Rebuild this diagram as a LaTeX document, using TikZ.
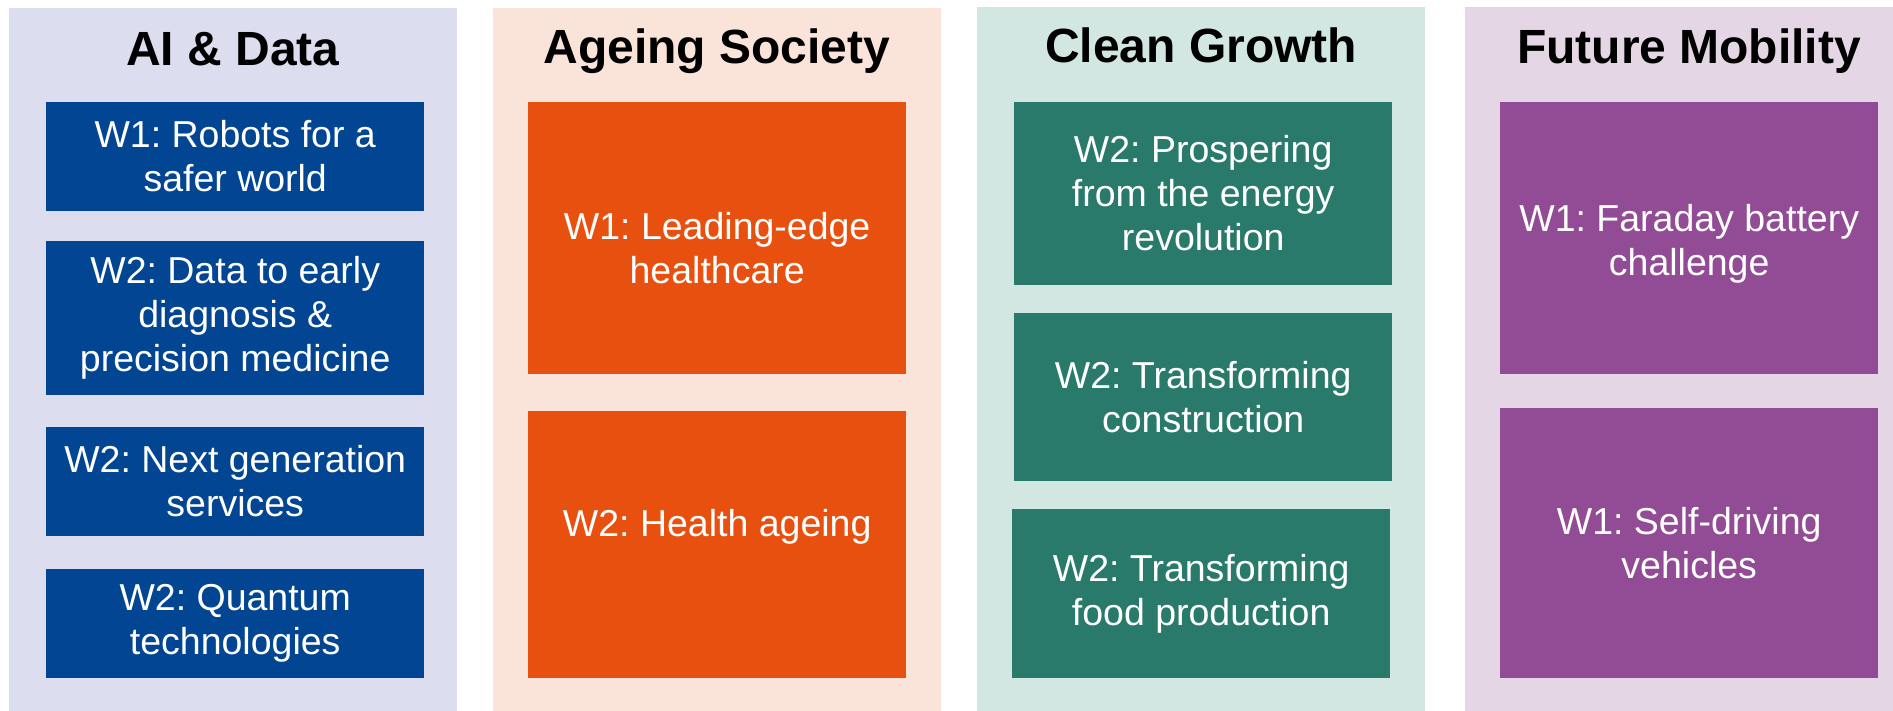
\documentclass[tikz,border=0pt]{standalone}
\usepackage{fontspec}
\setmainfont{Liberation Sans}
\frenchspacing
\definecolor{aiBg}{RGB}{220,221,239}
\definecolor{aiBox}{RGB}{2,69,146}
\definecolor{agBg}{RGB}{250,228,218}
\definecolor{agBox}{RGB}{232,80,15}
\definecolor{clBg}{RGB}{210,231,225}
\definecolor{clBox}{RGB}{42,122,107}
\definecolor{mbBg}{RGB}{229,214,230}
\definecolor{mbBox}{RGB}{146,76,149}
\begin{document}
\begin{tikzpicture}[x=1pt,y=-1pt,
  panelbox/.style={draw=none,inner sep=0pt,anchor=north west,minimum width=448pt,minimum height=703pt},
  ptitle/.style={anchor=base,inner sep=0pt,font=\fontsize{48}{54}\selectfont\bfseries,text=black},
  wbox/.style={draw=none,inner sep=0pt,anchor=north west,minimum width=378pt,text=white,align=center,font=\fontsize{37.5}{44}\selectfont}]
\useasboundingbox (0,0) rectangle (1893,710);
\fill[white] (0,0) rectangle (1893,710);
% panels
\node[panelbox,fill=aiBg] (p1) at (9,8) {};
\node[panelbox,fill=agBg] (p2) at (493,8) {};
\node[panelbox,fill=clBg,minimum height=704pt] (p3) at (977,7) {};
\node[panelbox,fill=mbBg,minimum width=428pt,minimum height=704pt] (p4) at (1465,7) {};
% titles
\node[ptitle] (t1) at (233,65.5) {AI \& Data};
\node[ptitle] (t2) at (717,63.5) {Ageing Society};
\node[ptitle] (t3) at (1201,62.5) {Clean Growth};
\node[ptitle] (t4) at (1689,63.5) {Future Mobility};
% AI & Data
\node[wbox,fill=aiBox,minimum height=108.7pt] (a1) at (46,102) {W1: Robots for a\\safer world};
\node[wbox,fill=aiBox,minimum height=153.5pt] (a2) at (46,241) {W2: Data to early\\diagnosis \&\\precision medicine};
\node[wbox,fill=aiBox,minimum height=108.7pt] (a3) at (46,427) {W2: Next generation\\services};
\node[wbox,fill=aiBox,minimum height=108.2pt] (a4) at (46,569.2) {W2: Quantum\\technologies};
% Ageing Society
\node[wbox,fill=agBox,minimum height=271.7pt] (g1) at (528,102) {\rule{0pt}{47pt}W1: Leading-edge\\healthcare};
\node[wbox,fill=agBox,minimum height=266.3pt] (g2) at (528,411.1) {W2: Health ageing\\\mbox{}};
% Clean Growth
\node[wbox,fill=clBox,minimum height=182.5pt] (c1) at (1014,102) {W2: Prospering\\from the energy\\revolution};
\node[wbox,fill=clBox,minimum height=167.5pt] (c2) at (1014,312.9) {W2: Transforming\\construction};
\node[wbox,fill=clBox,minimum height=168.4pt] (c3) at (1012,509) {W2: Transforming\\food production};
% Future Mobility
\node[wbox,fill=mbBox,minimum height=271.7pt] (m1) at (1500,102) {\rule{0pt}{39pt}W1: Faraday battery\\challenge};
\node[wbox,fill=mbBox,minimum height=269.4pt] (m2) at (1500,408) {W1: Self-driving\\vehicles};
\end{tikzpicture}
\end{document}
